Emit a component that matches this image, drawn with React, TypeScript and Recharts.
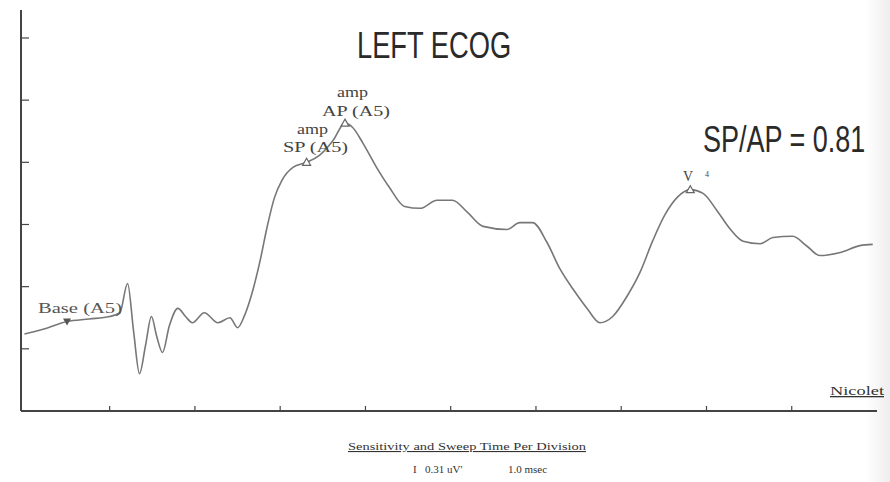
import { ComposedChart, Line, Scatter, XAxis, YAxis } from 'recharts';

// time in msec (1.0 msec per division), amplitude in divisions (0.31 uV each)
const timeMs = [
  0, 0.23, 0.5, 0.76, 1.0, 1.12, 1.21, 1.28, 1.35, 1.42, 1.49, 1.55, 1.62, 1.7, 1.8, 1.89, 1.97,
  2.11, 2.27, 2.41, 2.5, 2.58, 2.66, 2.76, 2.85, 2.93, 3.02, 3.15, 3.31, 3.46, 3.62, 3.76, 3.85,
  3.97, 4.13, 4.28, 4.46, 4.64, 4.84, 5.02, 5.2, 5.38, 5.66, 5.81, 5.96, 6.13, 6.28, 6.43, 6.6,
  6.75, 6.9, 7.07, 7.22, 7.37, 7.51, 7.66, 7.81, 7.96, 8.12, 8.27, 8.43, 8.63, 8.78, 9.01, 9.18,
  9.33, 9.57, 9.8, 9.95
];
const amplitude = [
  1.24, 1.32, 1.44, 1.48, 1.52, 1.58, 2.05, 1.29, 0.6, 1.05, 1.52, 1.21, 0.94, 1.37, 1.65, 1.52, 1.42,
  1.58, 1.42, 1.5, 1.34, 1.53, 1.85, 2.39, 2.98, 3.42, 3.71, 3.92, 4.0, 4.11, 4.35, 4.63, 4.56,
  4.31, 3.92, 3.6, 3.29, 3.26, 3.39, 3.39, 3.19, 2.97, 2.92, 3.03, 3.03, 2.71, 2.29, 1.97, 1.65,
  1.42, 1.52, 1.85, 2.23, 2.74, 3.15, 3.44, 3.56, 3.5, 3.23, 2.94, 2.73, 2.69, 2.79, 2.81, 2.65,
  2.5, 2.55, 2.66, 2.68
];

const markerNames = ['base', 'sp', 'ap', 'v'];
const markerTimes = [0.5, 3.31, 3.76, 7.81];
const markerValues = [1.44, 4.0, 4.63, 3.56];

const xTicks = [1, 2, 3, 4, 5, 6, 7, 8, 9];
const yTicks = [1, 2, 3, 4, 5, 6];

const trace = timeMs.map((t, i) => ({ t, v: amplitude[i] }));
const markers = markerNames.map((name, i) => ({ name, t: markerTimes[i], v: markerValues[i] }));

const ink = '#444';
const traceColor = '#777';

const MarkerShape = (props: any) => {
  const { cx, cy, payload } = props;
  if (payload.name === 'base') {
    return <path d={`M${cx - 4},${cy - 3} L${cx + 4},${cy - 3} L${cx},${cy + 4} Z`} fill="#555" />;
  }
  return (
    <path
      d={`M${cx},${cy - 4} L${cx + 4},${cy + 3} L${cx - 4},${cy + 3} Z`}
      fill="#fff"
      stroke="#666"
      strokeWidth={1.2}
    />
  );
};

const NoLabel = () => <g />;

const serif = '"Liberation Serif", "DejaVu Serif", serif';
const sans = '"Liberation Sans", Arial, sans-serif';
const fit = 'spacingAndGlyphs';

const Annotations = () => (
  <svg width={890} height={482} style={{ position: 'absolute', left: 0, top: 0, pointerEvents: 'none' }}>
    <text transform="translate(357,58) scale(1,1.38)" fontFamily={sans} fontSize={27.3} fill="#2a2a2a">
      LEFT ECOG
    </text>
    <text transform="translate(703,152) scale(1,1.36)" fontFamily={sans} fontSize={27} fill="#2a2a2a">
      SP/AP = 0.81
    </text>

    <g fontFamily={serif} fill="#444" fontSize={15}>
      <text x={337} y={97} textLength={31} lengthAdjust={fit}>amp</text>
      <text x={322} y={116} textLength={68} lengthAdjust={fit}>AP (A5)</text>
      <text x={297} y={134} textLength={31} lengthAdjust={fit}>amp</text>
      <text x={283} y={152} textLength={65} lengthAdjust={fit}>SP (A5)</text>
    </g>
    <g fontFamily={serif} fill="#444" fontSize={14} textAnchor="middle">
      <text x={688} y={181}>V</text>
      <text x={707} y={177} fontSize={8}>4</text>
    </g>
    <text x={38} y={313} fontFamily={serif} fontSize={14} fill="#555" textLength={84} lengthAdjust={fit}>
      Base (A5)
    </text>

    <text x={830} y={395} fontFamily={serif} fontSize={13} fill="#333" textLength={54} lengthAdjust={fit} textDecoration="underline">
      Nicolet
    </text>

    <text x={348} y={450} fontFamily={serif} fontSize={11} fill="#333" textLength={238} lengthAdjust={fit} textDecoration="underline">
      Sensitivity and Sweep Time Per Division
    </text>
    <g fontFamily={serif} fontSize={11} fill="#333">
      <text x={413} y={473}>I</text>
      <text x={425} y={473}>0.31 uV'</text>
      <text x={508} y={473}>1.0 msec</text>
    </g>
  </svg>
);

export default function App() {
  return (
    <div style={{ position: 'relative', width: 890, height: 482, background: '#fff', overflow: 'hidden' }}>
      <style>{'body{margin:0}'}</style>
      <ComposedChart width={890} height={482} margin={{ top: 10, right: 13, bottom: 71, left: 21 }}>
        <XAxis
          type="number"
          dataKey="t"
          domain={[-0.04, 10]}
          ticks={xTicks}
          allowDataOverflow
          height={1}
          mirror
          tick={NoLabel}
          tickSize={5}
          axisLine={{ stroke: ink, strokeWidth: 2 }}
          tickLine={{ stroke: ink, strokeWidth: 1.2 }}
        />
        <YAxis
          type="number"
          dataKey="v"
          domain={[0, 6.45]}
          ticks={yTicks}
          allowDataOverflow
          width={1}
          mirror
          tick={NoLabel}
          tickSize={8}
          axisLine={{ stroke: ink, strokeWidth: 2 }}
          tickLine={{ stroke: ink, strokeWidth: 1.2 }}
        />
        <Line
          data={trace}
          dataKey="v"
          type="monotone"
          stroke={traceColor}
          strokeWidth={1.6}
          dot={false}
          isAnimationActive={false}
        />
        <Scatter data={markers} dataKey="v" shape={MarkerShape} isAnimationActive={false} />
      </ComposedChart>
      <Annotations />
      <div
        style={{
          position: 'absolute',
          right: 0,
          top: 0,
          width: 24,
          height: 482,
          background: 'linear-gradient(to right, rgba(0,0,0,0), rgba(0,0,0,0.07))'
        }}
      />
    </div>
  );
}
